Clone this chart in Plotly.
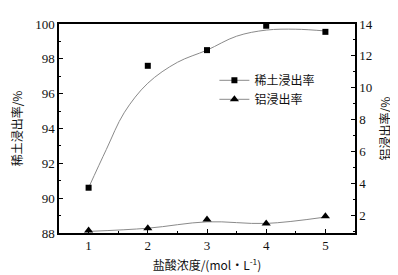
import plotly.graph_objects as go

conc = [1, 2, 3, 4, 5]
re_rate = [90.6, 97.6, 98.5, 99.9, 99.55]
al_rate = [1.05, 1.2, 1.75, 1.5, 1.95]

re_fit_x = [1, 1.3, 1.6, 2, 2.5, 3, 3.5, 4, 4.5, 5]
re_fit_y = [90.6, 92.8, 94.9, 96.6, 97.8, 98.5, 99.3, 99.65, 99.7, 99.6]
al_fit_x = [1, 2, 3, 4, 5]
al_fit_y = [1.0, 1.2, 1.6, 1.5, 1.9]

num_font = dict(family="Liberation Serif", size=13, color="#111")
cjk_font = dict(family="Noto Sans CJK SC", size=12, color="#111")
grey = "#8a8a8a"

fig = go.Figure()
fig.add_trace(go.Scatter(x=re_fit_x, y=re_fit_y, mode="lines", line=dict(color=grey, width=1, shape="spline", smoothing=1.0), showlegend=False))
fig.add_trace(go.Scatter(x=al_fit_x, y=al_fit_y, mode="lines", yaxis="y2", line=dict(color=grey, width=1, shape="spline", smoothing=1.0), showlegend=False))
fig.add_trace(go.Scatter(x=conc, y=re_rate, mode="markers", marker=dict(symbol="square", size=6, color="black"), showlegend=False))
fig.add_trace(go.Scatter(x=conc, y=al_rate, mode="markers", yaxis="y2", marker=dict(symbol="triangle-up", size=8, color="black"), showlegend=False))
fig.add_trace(go.Scatter(x=[None], y=[None], mode="lines+markers", name="稀土浸出率", line=dict(color=grey, width=1), marker=dict(symbol="square", size=6, color="black")))
fig.add_trace(go.Scatter(x=[None], y=[None], mode="lines+markers", name="铝浸出率", line=dict(color=grey, width=1), marker=dict(symbol="triangle-up", size=8, color="black")))

axis_common = dict(showline=True, linecolor="black", linewidth=1.5, ticks="inside", ticklen=4, tickcolor="black", showgrid=False, zeroline=False, tickfont=num_font)

fig.update_layout(
    width=398, height=275,
    margin=dict(l=51, r=51, t=9, b=50),
    plot_bgcolor="white", paper_bgcolor="white",
    xaxis=dict(range=[0.5, 5.5], tickvals=conc, mirror=True,
               minor=dict(dtick=0.5, ticks="inside", ticklen=2, tickcolor="black"),
               title=dict(text="盐酸浓度/(mol·L<sup>-1</sup>)", font=cjk_font, standoff=9), **axis_common),
    yaxis=dict(range=[88, 100], dtick=2,
               minor=dict(dtick=1, ticks="inside", ticklen=2, tickcolor="black"),
               title=dict(text="稀土浸出率/%", font=cjk_font, standoff=10), **axis_common),
    yaxis2=dict(range=[0.9, 14], tickvals=[2, 4, 6, 8, 10, 12, 14], overlaying="y", side="right",
                minor=dict(dtick=1, ticks="inside", ticklen=2, tickcolor="black"),
                title=dict(text="铝浸出率/%", font=cjk_font, standoff=10), **axis_common),
    legend=dict(x=0.525, y=0.80, xanchor="left", yanchor="top", bgcolor="rgba(0,0,0,0)",
                font=dict(family="Noto Sans CJK SC", size=12, color="#111"), tracegroupgap=0, itemwidth=30),
    showlegend=True,
)
fig.write_html("out.html")
